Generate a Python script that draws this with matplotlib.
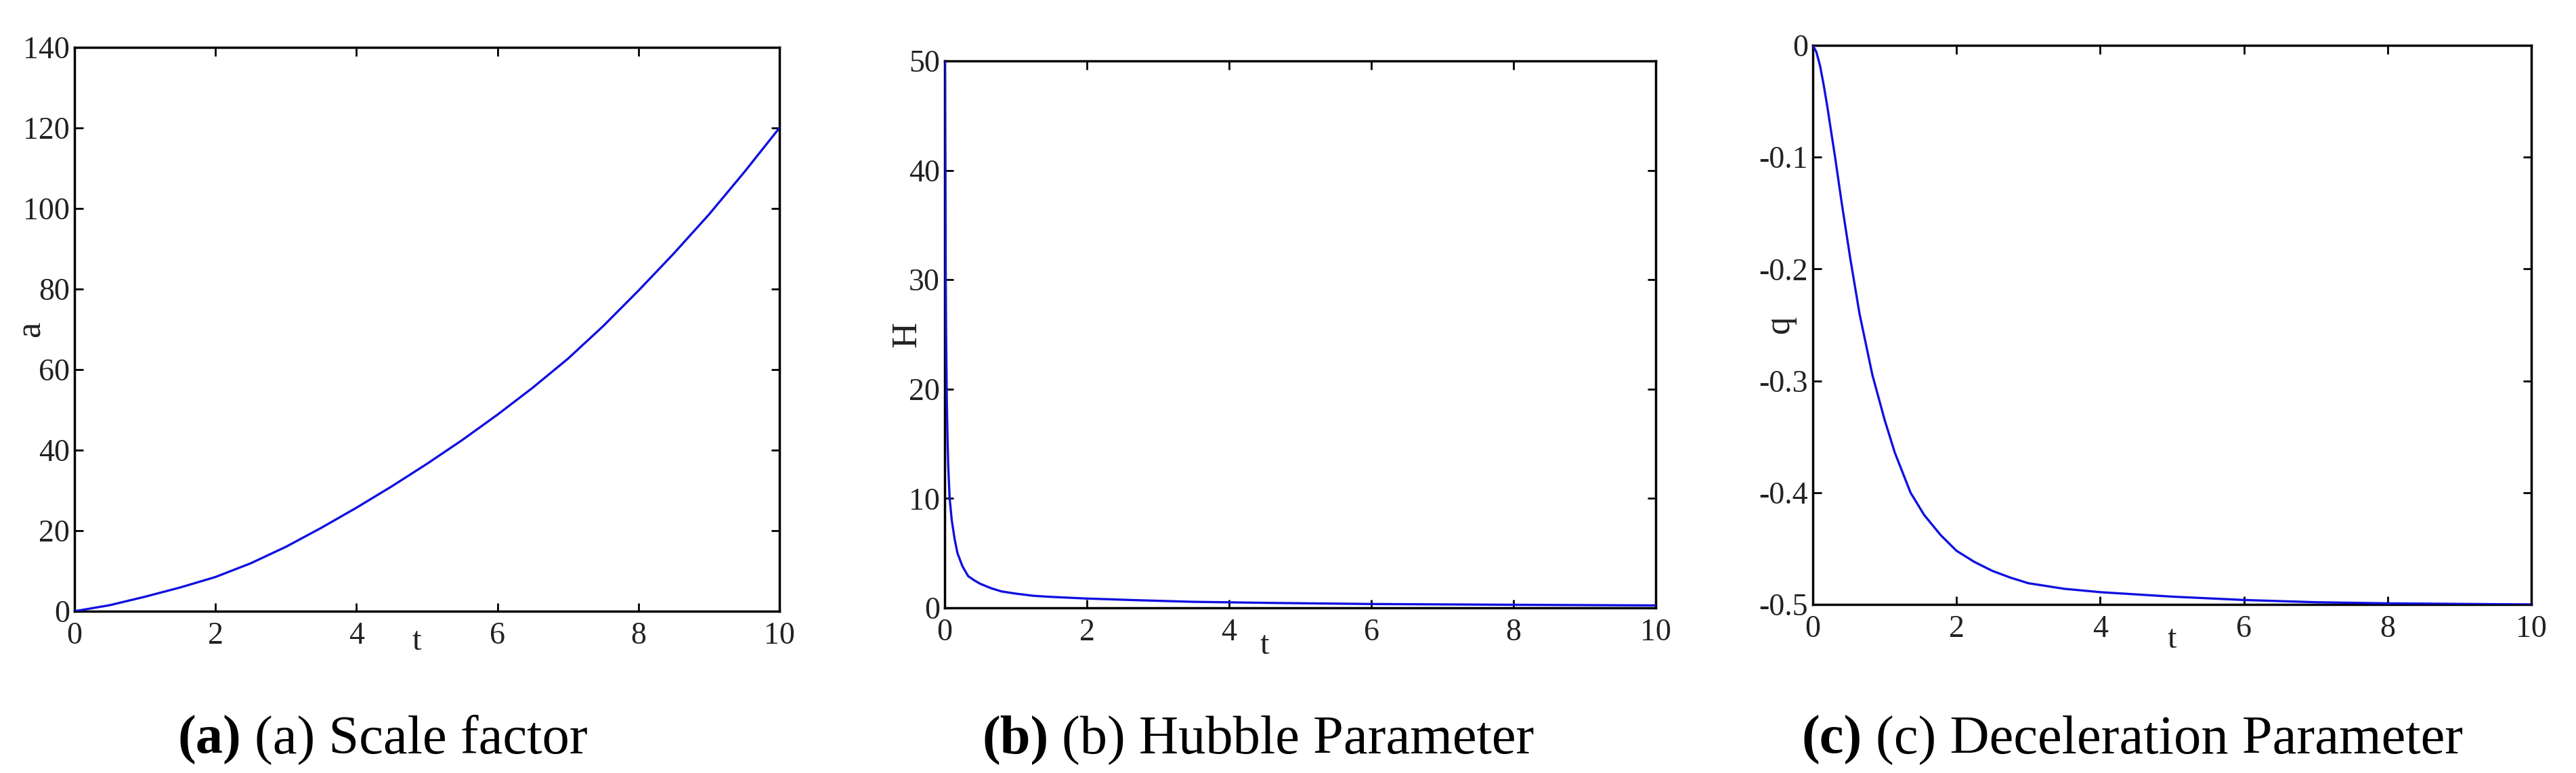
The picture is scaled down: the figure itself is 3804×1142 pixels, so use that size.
import matplotlib
matplotlib.use("Agg")
import matplotlib.pyplot as plt
import matplotlib.transforms as mtrans

plt.rcParams['font.family'] = ['Liberation Serif', 'DejaVu Serif']
plt.rcParams['axes.unicode_minus'] = False

# ---- data ----
t_a = [0, 0.5, 1, 1.5, 2, 2.5, 3, 3.5, 4, 4.5, 5, 5.5, 6, 6.5, 7, 7.5, 8, 8.5, 9, 9.5, 10]
a_vals = [0, 1.5, 3.6, 5.9, 8.5, 11.9, 16, 20.7, 25.7, 31, 36.6, 42.5, 48.8, 55.5, 62.7,
          70.8, 79.6, 88.8, 98.5, 109, 120]

t_h = [0.004, 0.01, 0.015, 0.02, 0.03, 0.04, 0.05, 0.07, 0.1, 0.14, 0.18, 0.25, 0.33,
       0.42, 0.5, 0.65, 0.8, 1.0, 1.25, 1.5, 2, 2.7, 3.5, 4.6, 6, 8, 10]
h_vals = [50, 40, 30, 25, 19, 15.5, 13, 10, 8, 6.3, 5, 3.8, 2.9, 2.5, 2.2, 1.8, 1.5, 1.3,
          1.1, 1.0, 0.85, 0.7, 0.55, 0.45, 0.35, 0.28, 0.22]

t_q = [0, 0.05, 0.1, 0.15, 0.2, 0.25, 0.31, 0.4, 0.52, 0.65, 0.83, 1.0, 1.14, 1.36, 1.55,
       1.78, 2, 2.25, 2.5, 2.75, 3, 3.5, 4, 5, 6, 7, 8, 9, 10]
q_vals = [0, -0.006, -0.018, -0.035, -0.054, -0.075, -0.1, -0.14, -0.19, -0.24, -0.295,
          -0.335, -0.364, -0.4, -0.42, -0.438, -0.452, -0.462, -0.47, -0.476, -0.481,
          -0.486, -0.489, -0.493, -0.496, -0.498, -0.499, -0.4995, -0.5]

x_ticks = [0, 2, 4, 6, 8, 10]
a_ticks = [0, 20, 40, 60, 80, 100, 120, 140]
h_ticks = [0, 10, 20, 30, 40, 50]
q_ticks = [-0.5, -0.4, -0.3, -0.2, -0.1, 0]
q_labels = ['-0.5', '-0.4', '-0.3', '-0.2', '-0.1', '0']

ylabels = ['a', 'H', 'q']
cap_bold = ['(a)', '(b)', '(c)']
cap_text = ['(a) Scale factor', '(b) Hubble Parameter', '(c) Deceleration Parameter']
t_label_x = [4.85, 4.5, 5.0]

# ---- layout (pixels) ----
W, H = 3804, 1142
fig = plt.figure(figsize=(W / 100, H / 100), dpi=100)
boxes = [(110, 1151, 70, 903), (1395, 2445, 90, 898), (2677, 3738, 67, 893)]
ylab_off = [-64, -55, -49]
t_off = [-45, -56, -52]
cap_cx = [565, 1858, 3149]
cap_base = 1113

series = [(t_a, a_vals, (0, 140), a_ticks, None),
          (t_h, h_vals, (0, 50), h_ticks, None),
          (t_q, q_vals, (-0.5, 0), q_ticks, q_labels)]

tick_fs = 33
lab_fs = 38
txt_col = '#222222'
for i, (l, r, t, b) in enumerate(boxes):
    ax = fig.add_axes([l / W, 1 - b / H, (r - l) / W, (b - t) / H])
    xs, ys, ylim, yt, ytl = series[i]
    ax.plot(xs, ys, color='#1010e0', lw=2.4, solid_joinstyle='round', zorder=3)
    ax.set_xlim(0, 10)
    ax.set_ylim(*ylim)
    ax.set_xticks(x_ticks)
    ax.set_yticks(yt)
    if ytl is not None:
        ax.set_yticklabels(ytl)
    for s in ax.spines.values():
        s.set_linewidth(2.5)
        s.set_color('black')
    ax.tick_params(direction='in', top=True, right=True, length=9, width=2,
                   labelsize=tick_fs, color='black', labelcolor=txt_col)
    ax.tick_params(axis='x', pad=11)
    ax.tick_params(axis='y', pad=5)
    tr = ax.transAxes + mtrans.ScaledTranslation(ylab_off[i] / 100, 0, fig.dpi_scale_trans)
    ax.text(0, 0.5, ylabels[i], rotation=90, fontsize=lab_fs, color=txt_col,
            ha='center', va='center', transform=tr)
    ax.annotate('t', xy=(t_label_x[i], 0), xycoords=('data', 'axes fraction'),
                xytext=(0, t_off[i]), textcoords='offset pixels',
                ha='center', va='center', fontsize=tick_fs + 2, color=txt_col)

# captions: bold prefix + regular text, centered as a whole
cap_fs = 58
renderer = fig.canvas.get_renderer()
m1 = fig.text(0, 0, 'a a', fontsize=cap_fs)
m2 = fig.text(0, 0, 'aa', fontsize=cap_fs)
sp = m1.get_window_extent(renderer).width - m2.get_window_extent(renderer).width
m1.remove(); m2.remove()
for i in range(3):
    tb = fig.text(0, 1 - cap_base / H, cap_bold[i], fontsize=cap_fs,
                  fontweight='bold', va='baseline', ha='left')
    trx = fig.text(0, 1 - cap_base / H, cap_text[i], fontsize=cap_fs,
                   va='baseline', ha='left')
    wb = tb.get_window_extent(renderer).width
    wr = trx.get_window_extent(renderer).width
    total = wb + sp + wr
    x0 = cap_cx[i] - total / 2
    tb.set_x(x0 / W)
    trx.set_x((x0 + wb + sp) / W)

fig.savefig('out.png', dpi=100)
